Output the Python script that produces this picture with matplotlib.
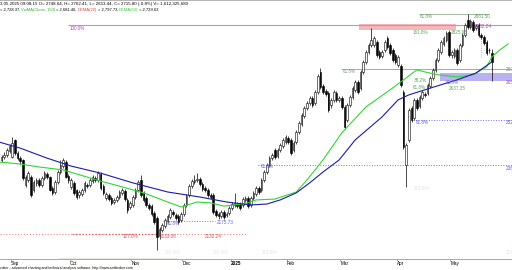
import matplotlib
matplotlib.use("Agg")
import matplotlib.pyplot as plt
from matplotlib.patches import Rectangle

# daily candles, late Aug 2024 .. 13 May 2025 (one value per trading day)
opens = [2384, 2394, 2401, 2414, 2394, 2452, 2408, 2390, 2384, 2299, 2316, 2326, 2282, 2306, 2316, 2299, 2322, 2336, 2326, 2289, 2275, 2309, 2343, 2363, 2377, 2329,
         2292, 2306, 2282, 2265, 2268, 2282, 2299, 2299, 2312, 2322, 2316, 2336, 2295, 2255, 2265, 2255, 2241, 2248, 2258, 2272, 2278, 2248, 2224,
         2231, 2258, 2282, 2316, 2272, 2255, 2231, 2227, 2204, 2187, 2125, 2146, 2159, 2176, 2190, 2207, 2197, 2193, 2180,
         2200, 2231, 2265, 2295, 2309, 2316, 2319, 2302, 2289, 2282, 2265, 2265, 2210, 2200, 2193, 2207, 2197, 2204, 2221,
         2231, 2234, 2234, 2231, 2248, 2255, 2231, 2255, 2268, 2289, 2282, 2316, 2343, 2367, 2390, 2418, 2397, 2418, 2431, 2445,
         2458, 2452, 2418, 2445, 2479, 2506, 2533, 2560, 2577, 2594, 2577, 2615, 2683, 2635, 2618, 2611, 2571, 2588, 2611, 2588, 2594,
         2564, 2520, 2571, 2598, 2622, 2649, 2628, 2683, 2717, 2751, 2775, 2775, 2785, 2751, 2737, 2758, 2798, 2775, 2758, 2741,
         2707, 2703, 2615, 2367, 2452, 2560, 2526, 2588, 2567, 2594, 2608, 2611, 2635, 2662, 2690, 2724, 2751, 2778, 2792, 2819,
         2741, 2737, 2758, 2724, 2775, 2809, 2859, 2836, 2852, 2832, 2842, 2809, 2802, 2785, 2758, 2748.64]
highs = [2401, 2411, 2424, 2438, 2462, 2455, 2414, 2397, 2387, 2333, 2346, 2333, 2316, 2322, 2322, 2329, 2346, 2343, 2329, 2295, 2316, 2350, 2384, 2390, 2384, 2336,
         2322, 2312, 2285, 2282, 2289, 2312, 2306, 2322, 2333, 2329, 2346, 2343, 2302, 2275, 2272, 2261, 2255, 2265, 2282, 2289, 2285, 2255, 2244,
         2265, 2289, 2316, 2333, 2278, 2261, 2238, 2234, 2210, 2193, 2156, 2170, 2187, 2200, 2221, 2214, 2204, 2200, 2207,
         2238, 2268, 2302, 2319, 2333, 2339, 2326, 2309, 2295, 2289, 2272, 2272, 2217, 2207, 2214, 2214, 2207, 2227, 2241,
         2272, 2241, 2241, 2258, 2261, 2261, 2261, 2278, 2295, 2295, 2322, 2350, 2374, 2397, 2408, 2424, 2424, 2441, 2458, 2469,
         2465, 2458, 2448, 2486, 2516, 2543, 2567, 2584, 2601, 2601, 2622, 2676, 2696, 2642, 2625, 2618, 2594, 2622, 2618, 2601, 2601,
         2571, 2577, 2605, 2635, 2656, 2656, 2690, 2724, 2758, 2781, 2832, 2805, 2792, 2758, 2758, 2792, 2805, 2781, 2764, 2747,
         2741, 2710, 2622, 2441, 2560, 2567, 2594, 2594, 2605, 2622, 2615, 2645, 2669, 2696, 2730, 2764, 2792, 2805, 2822, 2826,
         2758, 2764, 2764, 2781, 2815, 2849, 2881.5, 2863, 2859, 2846, 2849, 2815, 2809, 2792, 2764, 2762.41]
lows = [2377, 2387, 2394, 2408, 2390, 2401, 2384, 2370, 2316, 2292, 2309, 2258, 2275, 2295, 2292, 2292, 2316, 2319, 2278, 2265, 2268, 2302, 2336, 2356, 2322, 2306,
        2285, 2265, 2251, 2255, 2261, 2275, 2289, 2292, 2306, 2309, 2309, 2282, 2265, 2248, 2244, 2231, 2234, 2241, 2251, 2265, 2244, 2204, 2217,
        2224, 2251, 2275, 2258, 2241, 2224, 2214, 2193, 2166, 2078, 2115, 2139, 2153, 2170, 2183, 2193, 2180, 2166, 2173,
        2193, 2224, 2258, 2289, 2302, 2309, 2295, 2278, 2275, 2258, 2251, 2200, 2190, 2183, 2187, 2183, 2190, 2197, 2214,
        2224, 2221, 2214, 2224, 2241, 2221, 2224, 2248, 2261, 2268, 2275, 2309, 2336, 2360, 2384, 2387, 2390, 2411, 2424, 2438,
        2438, 2401, 2411, 2438, 2472, 2499, 2526, 2554, 2571, 2564, 2571, 2608, 2625, 2608, 2601, 2547, 2560, 2581, 2581, 2581, 2557,
        2489, 2513, 2564, 2591, 2615, 2608, 2622, 2676, 2710, 2744, 2768, 2768, 2734, 2727, 2730, 2751, 2761, 2741, 2717, 2710,
        2700, 2632, 2421, 2292, 2445, 2513, 2520, 2554, 2560, 2588, 2598, 2605, 2628, 2656, 2683, 2717, 2744, 2771, 2785, 2734,
        2730, 2730, 2707, 2717, 2768, 2802, 2829, 2829, 2819, 2826, 2802, 2795, 2775, 2741, 2747, 2653.44]
closes = [2394, 2401, 2418, 2431, 2441, 2408, 2390, 2380, 2322, 2326, 2339, 2265, 2309, 2316, 2299, 2322, 2339, 2326, 2282, 2272, 2309, 2343, 2367, 2384, 2326, 2316,
          2316, 2272, 2258, 2275, 2282, 2306, 2295, 2316, 2326, 2316, 2339, 2289, 2272, 2268, 2251, 2238, 2248, 2258, 2275, 2282, 2251, 2214, 2238,
          2258, 2282, 2309, 2265, 2248, 2231, 2221, 2200, 2173, 2122, 2149, 2163, 2180, 2193, 2214, 2200, 2187, 2173, 2200,
          2231, 2261, 2295, 2312, 2316, 2319, 2302, 2285, 2282, 2265, 2258, 2207, 2197, 2193, 2207, 2190, 2200, 2221, 2234,
          2238, 2227, 2221, 2251, 2255, 2227, 2255, 2272, 2289, 2275, 2316, 2343, 2367, 2390, 2401, 2394, 2418, 2435, 2452, 2462,
          2445, 2408, 2441, 2479, 2509, 2536, 2560, 2577, 2594, 2571, 2615, 2669, 2632, 2615, 2608, 2554, 2588, 2615, 2588, 2594, 2564,
          2496, 2571, 2598, 2628, 2649, 2615, 2683, 2717, 2751, 2775, 2792, 2798, 2741, 2734, 2751, 2785, 2768, 2747, 2724, 2717,
          2734, 2639, 2428, 2435, 2554, 2520, 2588, 2560, 2598, 2615, 2605, 2639, 2662, 2690, 2724, 2758, 2785, 2798, 2815, 2741,
          2751, 2758, 2713, 2775, 2809, 2842, 2836, 2856, 2826, 2839, 2809, 2802, 2781, 2747, 2756, 2715.80]

# moving averages (bar index, value)
green_bar = [-1, 7, 14, 23, 37, 44, 53, 62, 67, 73, 78, 83, 87, 92, 95, 102, 110, 114, 120, 127, 136, 145, 150, 155, 158, 163, 170, 176, 181, 183, 186, 189]
green_val = [2377, 2370, 2360, 2350, 2312, 2295, 2272, 2241, 2224, 2241, 2238, 2227, 2231, 2238, 2248, 2251, 2275, 2316, 2384, 2476, 2564, 2622, 2656, 2690, 2683, 2673, 2666, 2673, 2700, 2734, 2758, 2778]
blue_bar = [-1, 7, 17, 26, 37, 49, 62, 74, 84, 93, 99, 104, 110, 115, 120, 126, 132, 142, 148, 152, 160, 170, 177, 183]
blue_val = [2445, 2424, 2390, 2363, 2339, 2306, 2275, 2258, 2241, 2231, 2234, 2248, 2272, 2306, 2343, 2384, 2452, 2530, 2588, 2605, 2628, 2656, 2679, 2717]

month_bars = [4, 26, 49, 68, 86, 107, 127, 148, 168]
month_labels = ['Sep', 'Oct', 'Nov', 'Dec', '2025', 'Feb', 'Mar', 'Apr', 'May']

# fibonacci / level lines
lvl_price = [2881.50, 2844.10, 2692.90, 2521.30, 2366.70, 2175.73, 2132.24]
lvl_start = [155.8, 24.8, 126.7, 153.5, 95.7, 60.3, -0.6]
lvl_end = [181.9, 190.5, 190.5, 190.5, 190.5, 79.7, 91.6]

W, H = 512, 270
fig = plt.figure(figsize=(W / 100, H / 100), dpi=100)
fig.patch.set_facecolor('white')
ax = fig.add_axes([0, 11 / H, 1, 259 / H])
ax.set_xlim(-0.56, 190.5)
ax.set_ylim(2047.3, 2927.4)

FONT = ['Liberation Sans', 'DejaVu Sans']
renderer = fig.canvas.get_renderer()


def px_text(x, y, s, color='black', size=3.3, **kw):
    return fig.text(x / W, 1 - y / H, s, color=color, fontsize=size, va='center', ha='left', family=FONT, **kw)


def run_text(x, y, parts, size=3.0):
    # place coloured pieces one after another on the same line
    for s, c in parts:
        t = px_text(x, y, s, c, size)
        x += t.get_window_extent(renderer).width + 0.8


# zones
ax.add_patch(Rectangle((133.4, 2825.5), 169.6 - 133.4, 2846 - 2825.5, color='#f5b9b9', lw=0, zorder=0.5))
ax.add_patch(Rectangle((163.6, 2652.2), 190.5 - 163.6, 2679.4 - 2652.2, color='#b9b1f2', lw=0, zorder=0.5))

# level lines
styles = [('#95ad95', '-', 0.6), ('#c98ccf', '-', 0.8), ('#9a9a9a', '-', 0.6),
          ('#7272ee', ':', 0.7), ('#7272ee', ':', 0.7), ('#7272ee', ':', 0.7), ('#ef8a8a', ':', 0.8)]
for p, a, b, (c, ls, lw) in zip(lvl_price, lvl_start, lvl_end, styles):
    ax.hlines(p, a, b, colors=c, linestyles=ls, linewidth=lw, zorder=1)
ax.hlines(2132.24, 26.3, 58, colors='#dd6666', linestyles=':', linewidth=0.9, zorder=1)
ax.vlines(178.9, 2734, 2815, colors='#c09060', linestyles=':', linewidth=0.6, zorder=1)

# candles
idx = list(range(len(closes)))
ax.vlines(idx, lows, highs, colors='black', linewidth=0.5, zorder=2)
bottoms = [min(o, c) for o, c in zip(opens, closes)]
heights = [max(abs(c - o), 1.5) for o, c in zip(opens, closes)]
faces = ['white' if c >= o else 'black' for o, c in zip(opens, closes)]
ax.bar(idx, heights, bottom=bottoms, width=0.62, color=faces, edgecolor='black', linewidth=0.4, zorder=2.5)

# averages
ax.plot(green_bar, green_val, color='#2fd82f', linewidth=0.8, zorder=3)
ax.plot(blue_bar, blue_val, color='#1c1caa', linewidth=0.8, zorder=3)

# axes look
for s in ['left', 'right']:
    ax.spines[s].set_visible(False)
ax.spines['top'].set_color('#a8a8a8')
ax.spines['top'].set_linewidth(1.2)
ax.spines['bottom'].set_color('#9a9a9a')
ax.spines['bottom'].set_linewidth(0.6)
ax.hlines(2048.5, 21.1, 65.5, colors='#8b3a3a', linewidth=0.9, zorder=4)
ax.set_yticks([])
ax.set_xticks([b - 0.5 for b in month_bars])
ax.set_xticklabels(month_labels)
ax.tick_params(axis='x', direction='out', length=1.5, width=0.5, color='#888888', labelsize=3.3, pad=0.1)
for lbl in ax.get_xticklabels():
    lbl.set_ha('left')
    lbl.set_family(FONT)
    if lbl.get_text() == '2025':
        lbl.set_fontweight('bold')

# header
px_text(0, 3.5, '3.05.2025 09:08:15 O= 2748.64, H= 2762.41, L= 2653.44, C= 2715.80 (-0.8%) V= 1,612,325,680', size=3.2)
run_text(0, 9.5, [('= 2,728.37,', 'black'), ('VwMA(Close, 150)', '#33aa33'), ('= 2,681.46,', 'black'),
                  ('DEMA(22)', '#e04040'), ('= 2,797.73,', 'black'), ('DEMA(50)', '#33cc33'),
                  ('= 2,729.63', 'black')])

# level labels
green_t, purple_t, blue_t, red_t, faint = '#5aa85a', '#a552b0', '#6060ea', '#e05050', '#f2dede'
px_text(70, 28.5, '100.0%', purple_t)
px_text(420, 16, '61.8%', green_t)
px_text(474, 16, '2881.50', green_t)
px_text(413, 32, '161.8%', green_t)
px_text(451, 32, '2825.95', green_t)
px_text(475, 27, '2832.24', purple_t)
px_text(343, 71.5, '61.8%', '#8a9a8a')
px_text(414, 80, '38.2%', green_t)
px_text(413, 87.5, '61.8%', green_t)
px_text(446, 82.5, '61.8%', blue_t)
px_text(449, 88, '2637.35', green_t)
px_text(416, 122, '61.8%', blue_t)
px_text(261, 167, '61.8%', blue_t)
px_text(167, 223.5, '61.8%', blue_t)
px_text(217, 223, '2175.73', blue_t)
px_text(123, 236.5, '127.0%', red_t)
px_text(160, 236.5, '2133.08', red_t)
px_text(205, 236.5, '2132.24', red_t)
for fx, fy in [(165, 252), (213, 252), (262, 252), (414, 188)]:
    px_text(fx, fy, '161.8%', faint)
# price tags on the right edge, cut by the frame as in the original
px_text(506, 69.5, '2692.90', '#8a8a8a')
px_text(506, 82, '2652.70', purple_t)
px_text(506, 122, '2521.30', blue_t)
px_text(506, 168, '2366.70', blue_t)
px_text(506, 252, '2078.00', faint)

# footer
px_text(-8, 268.3, 'AmiBroker - advanced charting and technical analysis software. http://www.amibroker.com', size=2.5)

fig.savefig('out.png', dpi=100)
